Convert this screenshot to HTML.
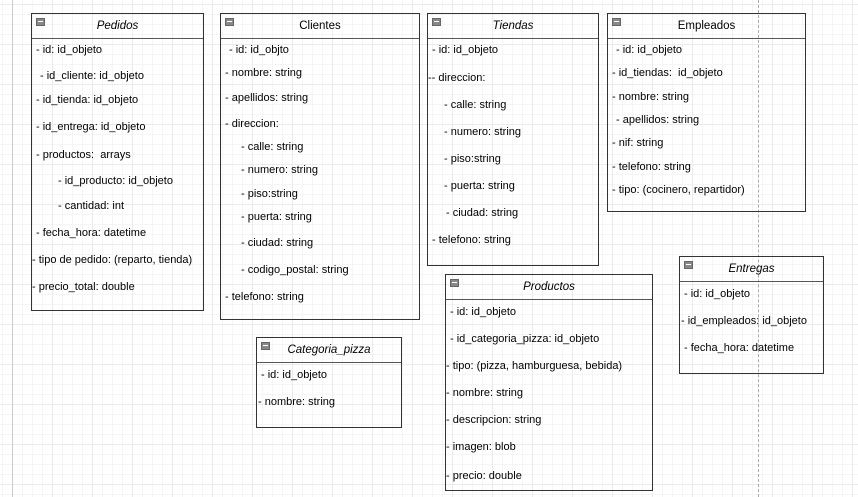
<!DOCTYPE html>
<html><head><meta charset="utf-8"><style>
body{margin:0;width:858px;height:497px;overflow:hidden;background:#fff;
background-image:linear-gradient(#ebebeb 1px,transparent 1px),linear-gradient(90deg,#ebebeb 1px,transparent 1px),linear-gradient(#f5f5f5 1px,transparent 1px),linear-gradient(90deg,#f5f5f5 1px,transparent 1px);
background-size:40px 40px,40px 40px,10px 10px,10px 10px;background-position:12px 4px,12px 4px,12px 4px,12px 4px;
font-family:"Liberation Sans",sans-serif;font-size:11px;color:#000;position:relative}
.b{position:absolute;border:1px solid #333;background:transparent;box-sizing:border-box}
.h{position:absolute;left:0;right:0;top:0;border-bottom:1px solid #555;text-align:center;font-size:11.5px}
.h i{display:block}
.m{position:absolute;left:4px;top:4px;width:7px;height:6px;background:#888;border:1px solid #666}
.m:after{content:"";position:absolute;left:1px;top:2px;width:5px;height:1px;background:#fff}
.t{position:absolute;white-space:nowrap;line-height:12px}
</style></head><body>
<div style="position:absolute;left:12px;top:0;width:1px;height:497px;background:#ccc"></div>
<div style="position:absolute;left:758px;top:0;height:497px;border-left:1px dashed #aaa"></div>

<div class="b" style="left:31px;top:13px;width:173px;height:298px">
<div class="h" style="height:24px;line-height:24px"><i>Pedidos</i></div><div class="m"></div>
<div class="t" style="left:4px;top:30px">- id: id_objeto</div>
<div class="t" style="left:8px;top:56px">- id_cliente: id_objeto</div>
<div class="t" style="left:4px;top:80px">- id_tienda: id_objeto</div>
<div class="t" style="left:4px;top:107px">- id_entrega: id_objeto</div>
<div class="t" style="left:4px;top:135px">- productos:&nbsp; arrays</div>
<div class="t" style="left:26px;top:161px">- id_producto: id_objeto</div>
<div class="t" style="left:26px;top:186px">- cantidad: int</div>
<div class="t" style="left:4px;top:213px">- fecha_hora: datetime</div>
<div class="t" style="left:0px;top:240px">- tipo de pedido: (reparto, tienda)</div>
<div class="t" style="left:0px;top:267px">- precio_total: double</div>
</div>

<div class="b" style="left:220px;top:13px;width:200px;height:307px">
<div class="h" style="height:24px;line-height:24px">Clientes</div><div class="m"></div>
<div class="t" style="left:8px;top:30px">- id: id_objto</div>
<div class="t" style="left:4px;top:53px">- nombre: string</div>
<div class="t" style="left:4px;top:78px">- apellidos: string</div>
<div class="t" style="left:4px;top:104px">- direccion:</div>
<div class="t" style="left:20px;top:127px">- calle: string</div>
<div class="t" style="left:20px;top:150px">- numero: string</div>
<div class="t" style="left:20px;top:174px">- piso:string</div>
<div class="t" style="left:20px;top:197px">- puerta: string</div>
<div class="t" style="left:20px;top:223px">- ciudad: string</div>
<div class="t" style="left:20px;top:250px">- codigo_postal: string</div>
<div class="t" style="left:4px;top:277px">- telefono: string</div>
</div>

<div class="b" style="left:427px;top:13px;width:172px;height:253px">
<div class="h" style="height:24px;line-height:24px"><i>Tiendas</i></div><div class="m"></div>
<div class="t" style="left:4px;top:30px">- id: id_objeto</div>
<div class="t" style="left:0px;top:58px">-- direccion:</div>
<div class="t" style="left:16px;top:85px">- calle: string</div>
<div class="t" style="left:16px;top:112px">- numero: string</div>
<div class="t" style="left:16px;top:139px">- piso:string</div>
<div class="t" style="left:16px;top:166px">- puerta: string</div>
<div class="t" style="left:18px;top:193px">- ciudad: string</div>
<div class="t" style="left:4px;top:220px">- telefono: string</div>
</div>

<div class="b" style="left:607px;top:13px;width:199px;height:199px">
<div class="h" style="height:24px;line-height:24px">Empleados</div><div class="m"></div>
<div class="t" style="left:8px;top:30px">- id: id_objeto</div>
<div class="t" style="left:4px;top:53px">- id_tiendas:&nbsp; id_objeto</div>
<div class="t" style="left:4px;top:77px">- nombre: string</div>
<div class="t" style="left:8px;top:100px">- apellidos: string</div>
<div class="t" style="left:4px;top:123px">- nif: string</div>
<div class="t" style="left:4px;top:147px">- telefono: string</div>
<div class="t" style="left:4px;top:170px">- tipo: (cocinero, repartidor)</div>
</div>

<div class="b" style="left:679px;top:256px;width:145px;height:118px">
<div class="h" style="height:24px;line-height:24px"><i>Entregas</i></div><div class="m"></div>
<div class="t" style="left:4px;top:31px">- id: id_objeto</div>
<div class="t" style="left:1px;top:58px">- id_empleados: id_objeto</div>
<div class="t" style="left:4px;top:85px">- fecha_hora: datetime</div>
</div>

<div class="b" style="left:445px;top:274px;width:208px;height:217px">
<div class="h" style="height:24px;line-height:24px"><i>Productos</i></div><div class="m"></div>
<div class="t" style="left:4px;top:31px">- id: id_objeto</div>
<div class="t" style="left:4px;top:58px">- id_categoria_pizza: id_objeto</div>
<div class="t" style="left:0px;top:85px">- tipo: (pizza, hamburguesa, bebida)</div>
<div class="t" style="left:0px;top:112px">- nombre: string</div>
<div class="t" style="left:0px;top:139px">- descripcion: string</div>
<div class="t" style="left:0px;top:166px">- imagen: blob</div>
<div class="t" style="left:0px;top:195px">- precio: double</div>
</div>

<div class="b" style="left:256px;top:337px;width:146px;height:91px">
<div class="h" style="height:24px;line-height:24px"><i>Categoria_pizza</i></div><div class="m"></div>
<div class="t" style="left:4px;top:31px">- id: id_objeto</div>
<div class="t" style="left:1px;top:58px">- nombre: string</div>
</div>
</body></html>
